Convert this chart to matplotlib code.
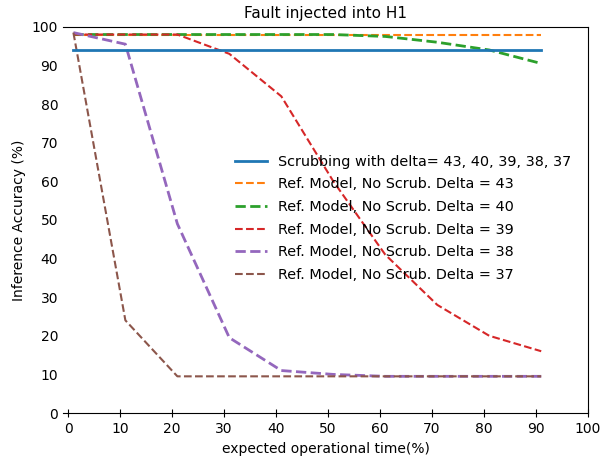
import matplotlib
matplotlib.use("Agg")
import matplotlib.pyplot as plt

# Data
op_time = [1, 11, 21, 31, 41, 51, 61, 71, 81, 91]
scrub = [94, 94, 94, 94, 94, 94, 94, 94, 94, 94]
delta_43 = [98, 98, 98, 98, 98, 98, 98, 98, 98, 98]
delta_40 = [98, 98, 98, 98, 98, 98, 97.5, 96, 94, 90.5]
delta_39 = [98, 98, 98, 93, 82, 60, 41, 28, 20, 16]
delta_38 = [98.5, 95.5, 49, 19.5, 11, 10, 9.5, 9.5, 9.5, 9.5]
delta_37 = [98.5, 24, 9.5, 9.5, 9.5, 9.5, 9.5, 9.5, 9.5, 9.5]

fig = plt.figure(figsize=(6, 4.62), dpi=100)
ax = fig.add_axes([0.105, 0.106, 0.875, 0.836])

ax.plot(op_time, scrub, color="#1f77b4", lw=2, zorder=5,
        label="Scrubbing with delta= 43, 40, 39, 38, 37")
ax.plot(op_time, delta_43, "--", color="#ff7f0e", lw=1.5,
        label="Ref. Model, No Scrub. Delta = 43")
ax.plot(op_time, delta_40, "--", color="#2ca02c", lw=2,
        label="Ref. Model, No Scrub. Delta = 40")
ax.plot(op_time, delta_39, "--", color="#d62728", lw=1.5,
        label="Ref. Model, No Scrub. Delta = 39")
ax.plot(op_time, delta_38, "--", color="#9467bd", lw=2,
        label="Ref. Model, No Scrub. Delta = 38")
ax.plot(op_time, delta_37, "--", color="#8c564b", lw=1.5,
        label="Ref. Model, No Scrub. Delta = 37")

ax.set_xlim(-1, 100)
ax.set_ylim(0, 100)
ax.set_xticks(range(0, 101, 10))
ax.set_yticks(range(0, 101, 10))
ax.spines["left"].set_visible(False)
ax.tick_params(axis="y", length=0, labelsize=10)
ax.tick_params(axis="x", direction="inout", length=6, labelsize=10)

ax.set_title("Fault injected into H1", fontsize=11)
ax.set_xlabel("expected operational time(%)", fontsize=10)
ax.set_ylabel("Inference Accuracy (%)", fontsize=10)

ax.legend(loc="upper left", bbox_to_anchor=(0.308, 0.695), frameon=False,
          fontsize=10.4, handlelength=2.2, labelspacing=0.6,
          borderaxespad=0.3)

fig.savefig("out.png", dpi=100)
